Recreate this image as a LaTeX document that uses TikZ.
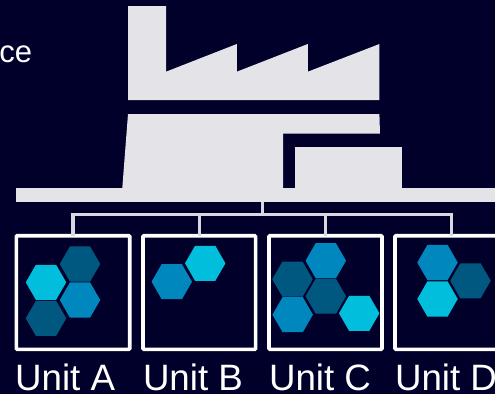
\documentclass[tikz,border=0pt]{standalone}
\usepackage{fontspec}
\setmainfont{Liberation Sans}
\usetikzlibrary{shapes.geometric}
\definecolor{bgc}{HTML}{00002A}
\definecolor{lightc}{HTML}{E3E3E8}
\definecolor{connc}{HTML}{D8D8E0}
\definecolor{cyanc}{HTML}{00BEDC}
\definecolor{bluec}{HTML}{0087BE}
\definecolor{darkc}{HTML}{005880}
\tikzset{
  x=1pt,y=-1pt,
  hexa/.style={regular polygon,regular polygon sides=6,minimum size=40.5pt,inner sep=0pt,outer sep=0pt,fill=#1},
  unitbox/.style={draw=white,line width=3.6pt,rounded corners=1pt,minimum height=113.6pt,inner sep=0pt,outer sep=0pt},
  conn/.style={draw=connc,line width=3.2pt},
  lbl/.style={text=white,anchor=base west,inner sep=0pt,outer sep=0pt,font=\fontsize{36.7pt}{40pt}\selectfont},
  bldg/.style={fill=lightc,draw=none}
}
\begin{document}
\begin{tikzpicture}
\useasboundingbox (0,0) rectangle (495,394);
\fill[bgc] (0,0) rectangle (495,394);
% factory
\fill[bldg] (128,6) -- (166,6) -- (166,71.7) -- (236.8,44) -- (236.8,71.7) -- (307.8,44) -- (307.8,71.7) -- (379.4,44) -- (379.4,100) -- (128,100) -- cycle;
\fill[bldg] (128,114) -- (379.4,114) -- (380,133.7) -- (283,133.7) -- (283,188) -- (122.3,188) -- cycle;
\fill[bldg] (295,147) rectangle (402,188);
\node[bldg,anchor=north west,minimum width=479pt,minimum height=13.7pt,inner sep=0pt,outer sep=0pt] (bar) at (16,188) {};
% unit boxes
\node[unitbox,minimum width=113.4pt] (ua) at (73,292.5) {};
\node[unitbox,minimum width=112.7pt] (ub) at (199.3,292.5) {};
\node[unitbox,minimum width=113pt] (uc) at (325.5,292.5) {};
\node[unitbox,minimum width=113.4pt] (ud) at (451.7,292.5) {};
% connectors
\coordinate (hub) at (262.7,214.3);
\draw[conn] (bar.south -| hub) -- (hub);
\draw[conn] (ua.north) |- (hub);
\draw[conn] (ud.north) |- (hub);
\draw[conn] (ub.north) -- (ub.north |- hub);
\draw[conn] (uc.north) -- (uc.north |- hub);
% hexagons
\node[hexa=darkc] (a1) at (80,264) {};
\node[hexa=cyanc] (a2) at (46,282.3) {};
\node[hexa=bluec] (a3) at (80,300) {};
\node[hexa=darkc] (a4) at (46,318.3) {};
\node[hexa=bluec] (b1) at (171.8,281.7) {};
\node[hexa=cyanc] (b2) at (205.2,263.3) {};
\node[hexa=bluec] (c1) at (325.8,260.7) {};
\node[hexa=darkc] (c2) at (292.5,279.2) {};
\node[hexa=darkc] (c3) at (325.8,296.2) {};
\node[hexa=bluec] (c4) at (292.7,314.7) {};
\node[hexa=cyanc] (c5) at (359.2,313.3) {};
\node[hexa=bluec] (d1) at (437.5,262.5) {};
\node[hexa=darkc] (d2) at (470.5,280.8) {};
\node[hexa=cyanc] (d3) at (437.5,299) {};
% labels
\node[lbl] (la) at (15.2,390) {Unit A};
\node[lbl] (lb) at (143,390) {Unit B};
\node[lbl] (lc) at (269,390) {Unit C};
\node[lbl] (ld) at (395,390) {Unit D};
\node[lbl,anchor=base east,font=\fontsize{31pt}{34pt}\selectfont] (ce) at (32,62.5) {ce};
\end{tikzpicture}
\end{document}
